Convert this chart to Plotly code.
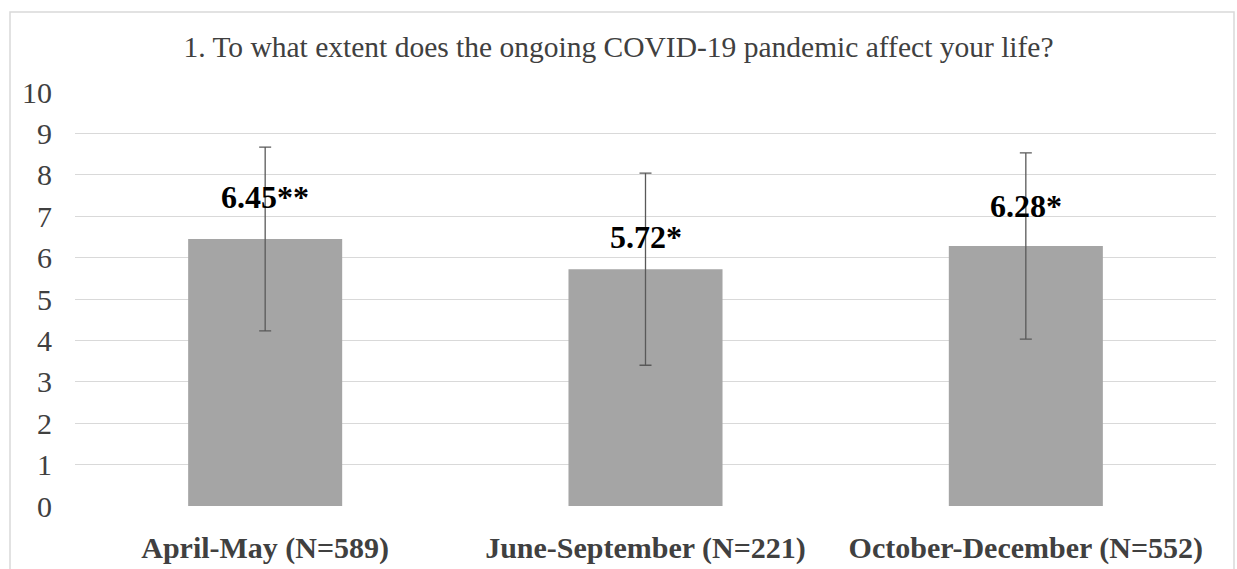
import plotly.graph_objects as go

# ---- data ----
categories = ["April-May (N=589)", "June-September (N=221)", "October-December (N=552)"]
means = [6.45, 5.72, 6.28]
sds = [2.22, 2.32, 2.25]
value_labels = ["6.45**", "5.72*", "6.28*"]
y_ticks = [0, 1, 2, 3, 4, 5, 6, 7, 8, 9, 10]

# ---- styling ----
SERIF = "Liberation Serif, Times New Roman, serif"
label_shift_px = [42, 32, 40]

W, H = 1237, 569
L, R, T, B = 75, 21, 92, 63

fig = go.Figure()
fig.add_trace(go.Bar(
    x=categories, y=means,
    marker=dict(color="#a5a5a5", line=dict(width=0)),
    width=0.405,
    error_y=dict(type="data", array=sds, visible=True,
                 color="#595959", thickness=1.3, width=6),
    hoverinfo="skip",
))

for c, m, lab, sh in zip(categories, means, value_labels, label_shift_px):
    fig.add_annotation(x=c, y=m, text="<b>%s</b>" % lab, showarrow=False,
                       yshift=sh, yanchor="middle", xanchor="center",
                       font=dict(family=SERIF, size=32, color="#000000"))

plot_w = W - L - R
plot_h = H - T - B
fig.add_shape(type="rect", xref="paper", yref="paper",
              x0=(10 - L) / plot_w, x1=(1234 - L) / plot_w,
              y0=-0.4, y1=(H - B - 12) / plot_h,
              line=dict(color="#d9d9d9", width=1.5), fillcolor="rgba(0,0,0,0)",
              layer="below")

fig.update_layout(
    width=W, height=H,
    margin=dict(l=L, r=R, t=T, b=B, pad=0),
    paper_bgcolor="white", plot_bgcolor="white",
    showlegend=False,
    title=dict(text="1. To what extent does the ongoing COVID-19 pandemic affect your life?",
               x=0.5, xref="container", xanchor="center",
               y=1 - 47 / H, yref="container", yanchor="middle",
               font=dict(family=SERIF, size=29.5, color="#404040")),
    font=dict(family=SERIF, color="#404040"),
)
fig.update_yaxes(range=[0, 10], tickvals=y_ticks, showgrid=True,
                 gridcolor="#d9d9d9", gridwidth=1.3, zeroline=False,
                 showline=False, ticks="", ticklabelstandoff=22,
                 automargin=False,
                 tickfont=dict(family=SERIF, size=30, color="#404040"))
fig.update_xaxes(showgrid=False, showline=False, zeroline=False, ticks="",
                 ticklabelstandoff=21, automargin=False,
                 tickfont=dict(family=SERIF, size=30, color="#404040"),
                 tickprefix="<b>", ticksuffix="</b>")

fig.write_html("out.html")
